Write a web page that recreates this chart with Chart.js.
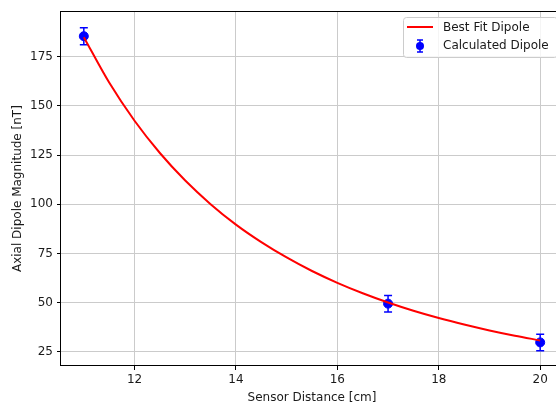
<!DOCTYPE html>
<html>
<head>
<meta charset="utf-8">
<script src="https://cdn.jsdelivr.net/npm/chart.js@4/dist/chart.umd.min.js"></script>
<style>
  html, body { margin: 0; padding: 0; background: #fff; overflow: hidden; }
  #wrap { width: 556px; height: 402px; overflow: hidden; }
</style>
</head>
<body>
<div id="wrap"><canvas id="chart" width="580" height="402"></canvas></div>
<script>
// fitted curve
const fitX = [11, 11.5, 12, 12.5, 13, 13.5, 14, 14.5, 15, 15.5, 16, 16.5, 17, 17.5, 18, 18.5, 19, 19.5, 20];
const fitY = [185.0, 161.9, 142.5, 126.1, 112.1, 100.1, 89.7, 80.8, 73.0, 66.1, 60.1, 54.8, 50.1, 45.9, 42.2, 38.9, 35.9, 33.2, 30.8];

// measured points
const measX = [11, 17, 20];
const measY = [185.5, 49.5, 29.8];
const measErr = [4.3, 4.2, 4.2];

const xTicks = [12, 14, 16, 18, 20];
const yTicks = [25, 50, 75, 100, 125, 150, 175];

const FONT = 'DejaVu Sans';
const TXT = '#1a1a1a';

// errorbars under the blue markers
const errorBars = {
    id: 'errorBars',
    beforeDatasetDraw(chart, args) {
        if (args.index !== 1) return;
        const { ctx, scales: { x, y } } = chart;
        ctx.save();
        ctx.strokeStyle = '#0000ff';
        ctx.lineWidth = 1.5;
        measX.forEach((v, i) => {
            const px = x.getPixelForValue(v);
            const top = y.getPixelForValue(measY[i] + measErr[i]);
            const bot = y.getPixelForValue(measY[i] - measErr[i]);
            ctx.beginPath();
            ctx.moveTo(px, top); ctx.lineTo(px, bot);
            ctx.moveTo(px - 4, top); ctx.lineTo(px + 4, top);
            ctx.moveTo(px - 4, bot); ctx.lineTo(px + 4, bot);
            ctx.stroke();
        });
        ctx.restore();
    }
};

// axes frame + legend box
const frameAndLegend = {
    id: 'frameAndLegend',
    afterDraw(chart) {
        const { ctx, chartArea: a } = chart;
        ctx.save();
        ctx.strokeStyle = '#000';
        ctx.lineWidth = 1;
        ctx.strokeRect(Math.round(a.left) - 0.5, Math.round(a.top) + 0.5,
            Math.round(a.right - a.left) + 1, Math.round(a.bottom - a.top) - 1);

        const w = 154, h = 40;
        const lx = Math.round(a.right - 6 - w), ly = Math.round(a.top + 6);
        ctx.fillStyle = 'rgba(255,255,255,0.8)';
        ctx.strokeStyle = '#cccccc';
        ctx.beginPath();
        ctx.roundRect(lx + 0.5, ly + 0.5, w, h, 3);
        ctx.fill();
        ctx.stroke();

        ctx.strokeStyle = '#ff0000';
        ctx.lineWidth = 2;
        ctx.beginPath();
        ctx.moveTo(lx + 4, ly + 10);
        ctx.lineTo(lx + 30, ly + 10);
        ctx.stroke();

        const mx = lx + 17, my = ly + 29;
        ctx.strokeStyle = '#0000ff';
        ctx.lineWidth = 1.5;
        ctx.beginPath();
        ctx.moveTo(mx, my - 6); ctx.lineTo(mx, my + 6);
        ctx.moveTo(mx - 3, my - 6); ctx.lineTo(mx + 3, my - 6);
        ctx.moveTo(mx - 3, my + 6); ctx.lineTo(mx + 3, my + 6);
        ctx.stroke();
        ctx.fillStyle = '#0000ff';
        ctx.beginPath();
        ctx.arc(mx, my, 4, 0, Math.PI * 2);
        ctx.fill();

        ctx.fillStyle = TXT;
        ctx.font = '12px "' + FONT + '"';
        ctx.textBaseline = 'middle';
        ctx.fillText('Best Fit Dipole', lx + 40, ly + 10.5);
        ctx.fillText('Calculated Dipole', lx + 40, ly + 28.5);
        ctx.restore();
    }
};

const gridStyle = {
    color: '#cbcbcb',
    lineWidth: 1,
    tickColor: '#000',
    tickLength: 4
};

new Chart(document.getElementById('chart'), {
    type: 'scatter',
    data: {
        datasets: [{
            label: 'Best Fit Dipole',
            data: fitX.map((v, i) => ({ x: v, y: fitY[i] })),
            showLine: true,
            borderColor: '#ff0000',
            borderWidth: 2,
            pointRadius: 0,
            cubicInterpolationMode: 'monotone'
        }, {
            label: 'Calculated Dipole',
            data: measX.map((v, i) => ({ x: v, y: measY[i] })),
            showLine: false,
            backgroundColor: '#0000ff',
            borderColor: '#0000ff',
            pointRadius: 4.5
        }]
    },
    options: {
        responsive: false,
        animation: false,
        layout: { padding: { top: 9, right: 17, left: 0, bottom: 0 } },
        plugins: { legend: { display: false }, tooltip: { enabled: false } },
        scales: {
            x: {
                type: 'linear',
                min: 10.55,
                max: 20.45,
                afterBuildTicks: axis => { axis.ticks = xTicks.map(v => ({ value: v })); },
                afterFit: axis => { axis.height = 36; },
                grid: gridStyle,
                border: { display: false },
                ticks: { color: TXT, font: { family: FONT, size: 12 }, padding: 3, maxRotation: 0 },
                title: { display: true, text: 'Sensor Distance [cm]', color: TXT,
                         font: { family: FONT, size: 12 }, padding: { top: 0, bottom: -3 } }
            },
            y: {
                type: 'linear',
                min: 17.8,
                max: 198.2,
                afterBuildTicks: axis => { axis.ticks = yTicks.map(v => ({ value: v })); },
                afterFit: axis => { axis.width = 61; },
                grid: gridStyle,
                border: { display: false },
                ticks: { color: TXT, font: { family: FONT, size: 12 }, padding: 4 },
                title: { display: true, text: 'Axial Dipole Magnitude [nT]', color: TXT,
                         font: { family: FONT, size: 12 }, padding: { top: 11, bottom: 0 } }
            }
        }
    },
    plugins: [errorBars, frameAndLegend]
});
</script>
</body>
</html>
